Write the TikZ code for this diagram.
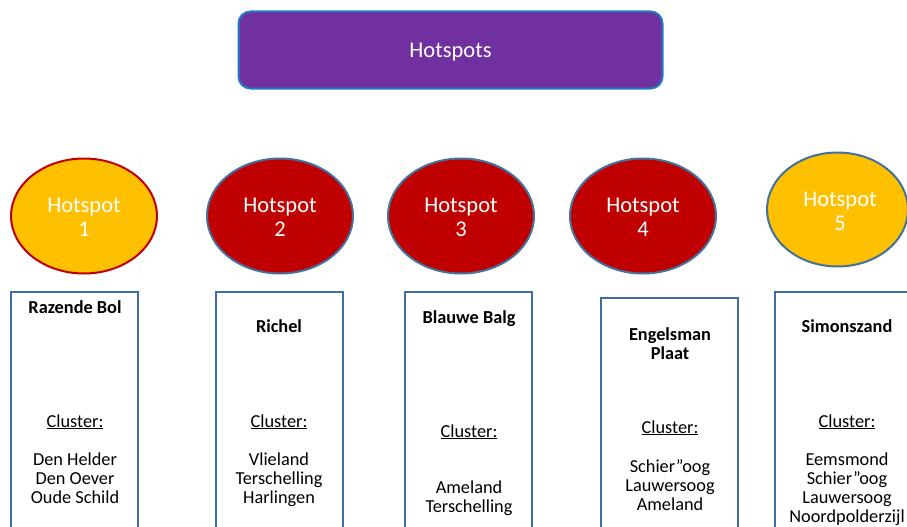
\documentclass[tikz,border=0pt]{standalone}
\usepackage{fontspec}
\setmainfont{Carlito}
\usetikzlibrary{shapes.geometric}
\definecolor{titlefill}{HTML}{7030A0}
\definecolor{titleline}{HTML}{1F7BC4}
\definecolor{hotorange}{HTML}{FFC000}
\definecolor{hotred}{HTML}{C00000}
\definecolor{hotblue}{HTML}{41719C}
\definecolor{boxblue}{HTML}{3E6DA3}
\tikzset{
  spotshape/.style={ellipse, minimum width=146pt, minimum height=115pt, line width=2pt, inner sep=0pt},
  spotorange/.style={spotshape, fill=hotorange},
  spotred/.style={spotshape, fill=hotred, draw=hotblue},
  spottext/.style={text=white, font=\fontsize{22.5}{24}\selectfont, align=center},
  clusterbox/.style={draw=boxblue, line width=2pt},
  boxtext/.style={font=\fontsize{18.3}{19}\selectfont, align=center, anchor=base, inner sep=0pt},
  boxhead/.style={boxtext, font=\fontsize{18.3}{19}\selectfont\bfseries},
}
\begin{document}
\begin{tikzpicture}[x=1pt,y=-1pt]
\useasboundingbox (0,0) rectangle (907,527);
\clip (0,0) rectangle (907,527);
% title
\node[draw=titleline, fill=titlefill, line width=2pt, rounded corners=12pt,
      minimum width=424pt, minimum height=77pt, text=white,
      font=\fontsize{22.5}{24}\selectfont] (title) at (450.5,50) {};
\node[text=white, font=\fontsize{22.5}{24}\selectfont, anchor=base] (titletext) at (450.5,58) {Hotspots};
% ellipses
\node[spotorange, draw=hotred] (h1) at (84,216) {};
\node[spotred] (h2) at (280,216) {};
\node[spotred] (h3) at (461,216) {};
\node[spotred] (h4) at (643,216) {};
\node[spotorange, draw=hotblue, minimum width=141pt, minimum height=114pt] (h5) at (837.5,209.5) {};
\node[spottext] (t1) at (84,217) {Hotspot\\1};
\node[spottext] (t2) at (280,217) {Hotspot\\2};
\node[spottext] (t3) at (461,217) {Hotspot\\3};
\node[spottext] (t4) at (643,217) {Hotspot\\4};
\node[spottext] (t5) at (840,211) {Hotspot\\5};
% boxes
\draw[clusterbox] (11,292) rectangle (138,540);
\draw[clusterbox] (216,292) rectangle (343,540);
\draw[clusterbox] (405,292) rectangle (532,540);
\draw[clusterbox] (601,298) rectangle (738,540);
\draw[clusterbox] (775,292) rectangle (920,540);
% box 1
\node[boxhead] (b1h) at (75,313) {Razende Bol};
\node[boxtext] (b1c) at (75,427) {\underline{Cluster:}};
\node[boxtext, anchor=north] (b1l) at (75,453) {Den Helder\\Den Oever\\Oude Schild};
% box 2
\node[boxhead] (b2h) at (279,332) {Richel};
\node[boxtext] (b2c) at (279,427) {\underline{Cluster:}};
\node[boxtext, anchor=north] (b2l) at (279,453) {Vlieland\\Terschelling\\Harlingen};
% box 3
\node[boxhead] (b3h) at (469,323) {Blauwe Balg};
\node[boxtext] (b3c) at (469,437) {\underline{Cluster:}};
\node[boxtext, anchor=north] (b3l) at (469,481) {Ameland\\Terschelling};
% box 4
\node[boxhead, anchor=north] (b4h) at (670,327) {Engelsman\\Plaat};
\node[boxtext] (b4c) at (670,433) {\underline{Cluster:}};
\node[boxtext, anchor=north] (b4l) at (670,459) {Schier”oog\\Lauwersoog\\Ameland};
% box 5
\node[boxhead] (b5h) at (847,332) {Simonszand};
\node[boxtext] (b5c) at (847,427) {\underline{Cluster:}};
\node[boxtext, anchor=north] (b5l) at (847,453) {Eemsmond\\Schier”oog\\Lauwersoog\\Noordpolderzijl};
\end{tikzpicture}
\end{document}
